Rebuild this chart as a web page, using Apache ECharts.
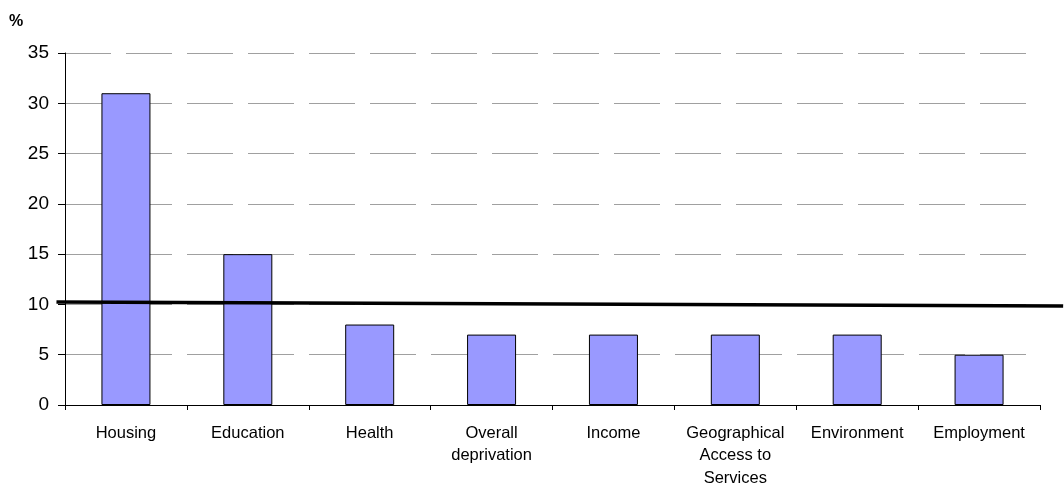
<!DOCTYPE html>
<html>
<head>
<meta charset="utf-8">
<script src="https://cdn.jsdelivr.net/npm/echarts@6/dist/echarts.min.js"></script>
<style>
  html, body { margin: 0; padding: 0; background: #fff; }
  #chart { width: 1064px; height: 491px; }
</style>
</head>
<body>
<div id="chart"></div>
<script>
  // data
  var categories = ['Housing', 'Education', 'Health', 'Overall\ndeprivation', 'Income',
    'Geographical\nAccess to\nServices', 'Environment', 'Employment'];
  var values = [31, 15, 8, 7, 7, 7, 7, 5];
  // black reference line, ends given in category units (0..8) and %
  var lineX = [-0.07, 8.19];
  var lineY = [10.25, 9.85];
  var yTicks = { min: 0, max: 35, interval: 5 };

  var myChart = echarts.init(document.getElementById('chart'));
  var font = 'Liberation Sans, Arial, sans-serif';

  // the black line runs past the plot, so it sits on a second full-width grid
  // whose x range is the category range stretched out to the page edges
  var catW = (1064 - 65 - 24) / 8;

  var option = {
    animation: false,
    textStyle: { fontFamily: font },
    graphic: [{
      type: 'text', left: 9, top: 14,
      style: { text: '%', font: 'bold 16px ' + font, fill: '#000' }
    }],
    grid: [
      { left: 65, right: 24, top: 53, bottom: 86, containLabel: false },
      { left: 0, right: 0, top: 53, bottom: 86, containLabel: false }
    ],
    xAxis: [{
      type: 'category',
      gridIndex: 0,
      data: categories,
      boundaryGap: true,
      axisLine: { show: true, lineStyle: { color: '#000', width: 1 } },
      axisTick: { show: true, alignWithLabel: false, length: 5, lineStyle: { color: '#000' } },
      axisLabel: { interval: 0, color: '#000', fontSize: 16.5, lineHeight: 22.5, margin: 17, fontFamily: font },
      splitLine: { show: false }
    }, {
      type: 'value',
      gridIndex: 1,
      min: -65 / catW,
      max: 8 + 24 / catW,
      show: false,
      splitLine: { show: false }
    }],
    yAxis: [{
      type: 'value',
      gridIndex: 0,
      min: yTicks.min,
      max: yTicks.max,
      interval: yTicks.interval,
      axisLine: { show: true, lineStyle: { color: '#000', width: 1 } },
      axisTick: { show: true, length: 7, lineStyle: { color: '#000' } },
      axisLabel: { color: '#000', fontSize: 19, margin: 16, fontFamily: font },
      splitLine: { show: true, lineStyle: { color: '#a0a0a0', width: 1, type: [46, 15] } }
    }, {
      type: 'value',
      gridIndex: 1,
      min: yTicks.min,
      max: yTicks.max,
      show: false,
      splitLine: { show: false }
    }],
    series: [{
      type: 'bar',
      data: values,
      barWidth: 49,
      itemStyle: { color: '#9999ff', borderColor: '#000', borderWidth: 1 }
    }, {
      type: 'line',
      xAxisIndex: 1,
      yAxisIndex: 1,
      data: [[lineX[0], lineY[0]], [lineX[1], lineY[1]]],
      symbol: 'none',
      lineStyle: { color: '#000', width: 3.5 },
      z: 5
    }]
  };
  myChart.setOption(option);
</script>
</body>
</html>
